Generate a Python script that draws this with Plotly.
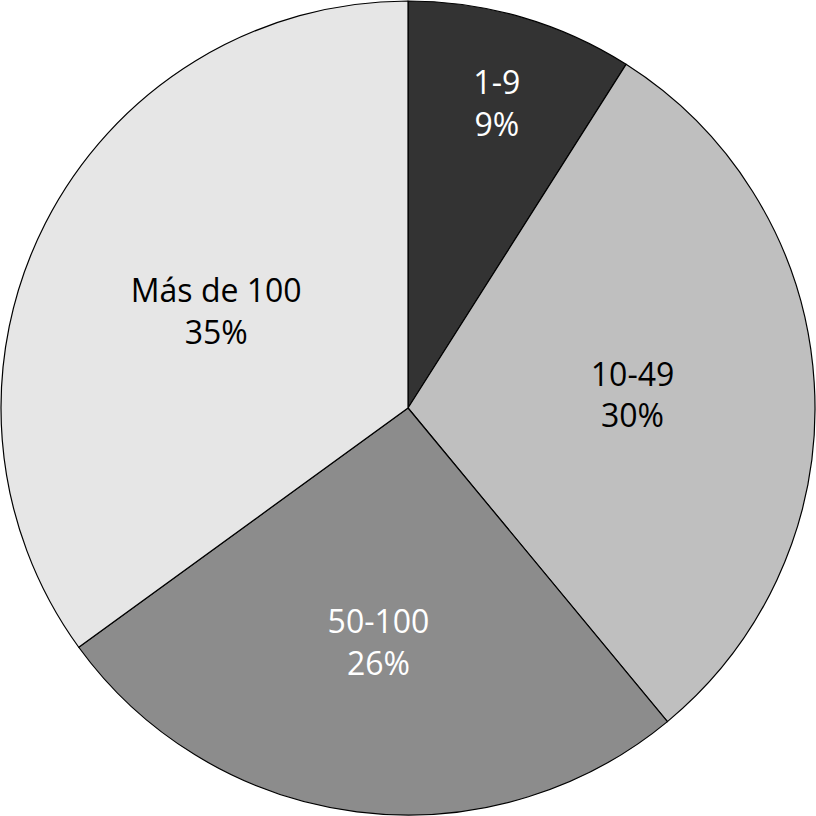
import plotly.graph_objects as go

# Data
labels = ["1-9", "10-49", "50-100", "Más de 100"]
values = [9, 30, 26, 35]
slice_colors = ["#333333", "#bfbfbf", "#8c8c8c", "#e6e6e6"]
text_colors = ["white", "black", "white", "black"]

fig = go.Figure()

fig.add_trace(go.Pie(
    labels=labels,
    values=values,
    sort=False,
    direction="clockwise",
    rotation=0,
    marker=dict(colors=slice_colors, line=dict(color="black", width=1.2)),
    texttemplate="%{label}<br>%{percent:.0%}",
    textposition="inside",
    insidetextorientation="horizontal",
    textfont=dict(family="Open Sans", size=32, color=text_colors),
    hoverinfo="label+percent",
    showlegend=False,
))

fig.update_layout(
    width=816,
    height=816,
    margin=dict(l=1, r=1, t=1, b=1),
    paper_bgcolor="white",
    plot_bgcolor="white",
    uniformtext=dict(minsize=32, mode="show"),
)

# drop the default body margin so the 816px figure fills the window
fig.write_html(
    "out.html",
    config={"displayModeBar": False},
    post_script="document.body.style.margin='0';document.body.style.overflow='hidden';",
)
